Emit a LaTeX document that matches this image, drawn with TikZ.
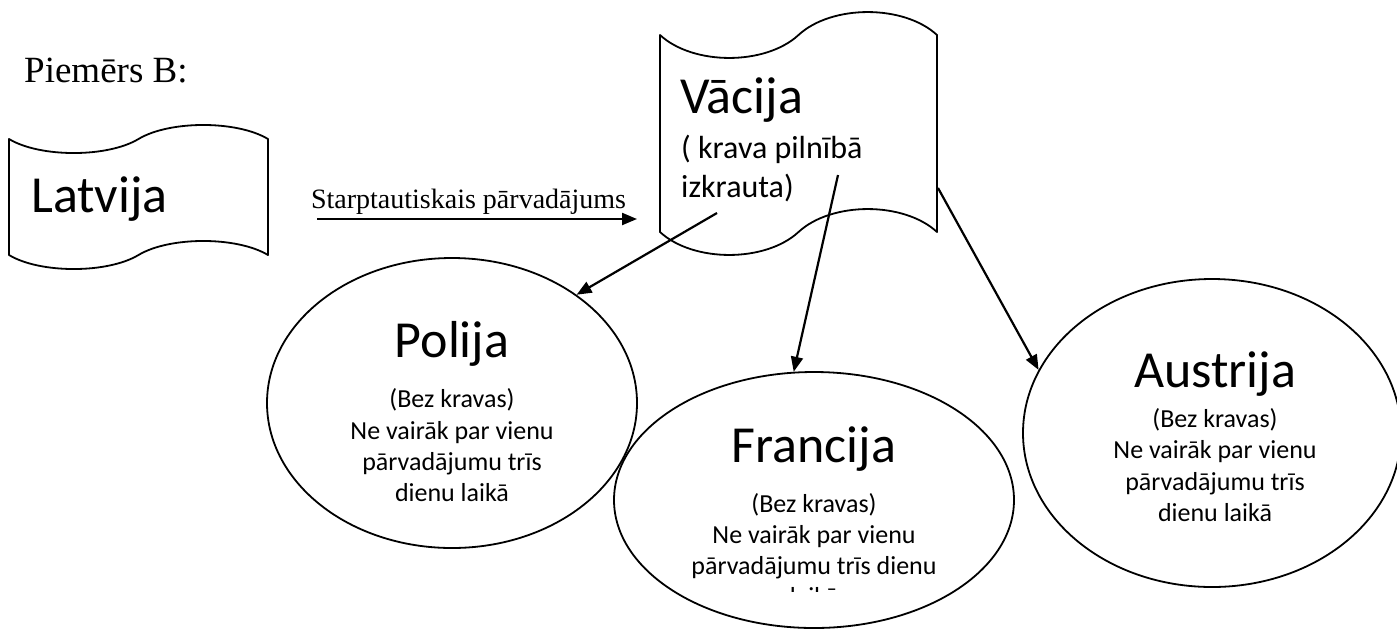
\documentclass[tikz,border=0pt]{standalone}
\usepackage{fontspec}
\setmainfont{Liberation Serif}
\newfontfamily\calib{Carlito}
\usetikzlibrary{arrows.meta,shapes.geometric}
\tikzset{
  outl/.style={line width=1.8pt, line join=round, fill=white},
  oval/.style={draw, ellipse, line width=1.8pt, inner sep=0pt},
  conn/.style={line width=2.2pt, -{Triangle[length=15pt,width=12pt]}},
  ttl/.style={font=\calib\fontsize{52}{62}\selectfont, inner sep=0pt},
  sub/.style={font=\calib\fontsize{32}{39}\selectfont, inner sep=0pt, anchor=base west},
  body/.style={font=\calib\fontsize{26}{31.7}\selectfont, inner sep=0pt, anchor=base},
  serif/.style={inner sep=0pt, anchor=base west},
}
\begin{document}
\begin{tikzpicture}[x=1pt,y=-1pt]
\useasboundingbox (0,0) rectangle (1397,630);

% heading
\node[serif, font=\fontsize{37}{44}\selectfont] (heading) at (24,82) {Piemērs B:};

% Latvija banner
\draw[outl] (9,139) .. controls (40,157.7) and (107.4,157.7) .. (138.5,139)
  .. controls (169.6,120.3) and (236.9,120.3) .. (268,139) -- (268,255)
  .. controls (236.9,236.3) and (169.6,236.3) .. (138.5,255)
  .. controls (107.4,273.7) and (40,273.7) .. (9,255) -- cycle;
\node[ttl, anchor=base west] (latvija) at (31,212) {Latvija};

% Vacija banner
\draw[outl] (660,35) .. controls (693.2,65.6) and (765.3,65.6) .. (798.5,35)
  .. controls (831.7,4.4) and (903.8,4.4) .. (937,35) -- (937,232)
  .. controls (903.8,201.4) and (831.7,201.4) .. (798.5,232)
  .. controls (765.3,262.6) and (693.2,262.6) .. (660,232) -- cycle;
\node[ttl, anchor=base west] (vacija) at (680,113) {Vācija};
\node[sub] (vsub1) at (681,158) {( krava pilnībā};
\node[sub] (vsub2) at (681,197) {izkrauta)};

% ellipses
\node[oval, minimum width=370pt, minimum height=290pt] (polija) at (452,403) {};
\node[oval, minimum width=400pt, minimum height=256pt] (francija) at (814,500) {};
\node[oval, minimum width=378pt, minimum height=308pt] (austrija) at (1212,433) {};

% Polija text
\node[ttl, anchor=base] (pt) at (452,357) {Polija};
\node[body] (pb1) at (452,407) {(Bez kravas)};
\node[body] (pb2) at (452,439) {Ne vairāk par vienu};
\node[body] (pb3) at (452,470) {pārvadājumu trīs};
\node[body] (pb4) at (452,501) {dienu laikā};

% Francija text
\node[ttl, anchor=base] (ft) at (814,462) {Francija};
\node[body] (fb1) at (814,512) {(Bez kravas)};
\node[body] (fb2) at (814,543) {Ne vairāk par vienu};
\node[body] (fb3) at (814,574) {pārvadājumu trīs dienu};
\begin{scope}
  \clip (600,570) rectangle (1000,591);
  \node[body] (fb4) at (814,605) {laikā};
\end{scope}

% Austrija text
\node[ttl, anchor=base] (at) at (1215,387) {Austrija};
\node[body] (ab1) at (1215,427) {(Bez kravas)};
\node[body] (ab2) at (1215,458) {Ne vairāk par vienu};
\node[body] (ab3) at (1215,490) {pārvadājumu trīs};
\node[body] (ab4) at (1215,521) {dienu laikā};

% connectors
\coordinate (s0) at (317,219);
\coordinate (e0) at (637,219);
\draw[conn] (s0) -- (e0) node[pos=0, serif, font=\fontsize{28}{34}\selectfont, anchor=base west, yshift=11pt, xshift=-7pt] (lbl) {Starptautiskais pārvadājums};

\coordinate (s1) at (717,213);
\coordinate (s2) at (838,175);
\coordinate (s3) at (938,188);
\draw[conn] (s1) -- (polija.41.6);
\draw[conn] (s2) -- (francija.99.6);
\draw[conn] (s3) -- (austrija.160.6);
\end{tikzpicture}
\end{document}
